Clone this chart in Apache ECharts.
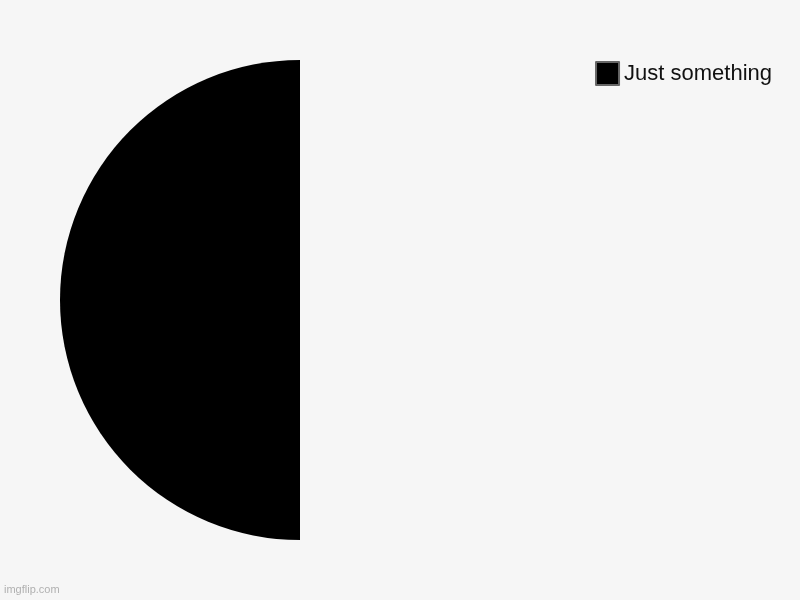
<!DOCTYPE html>
<html>
<head>
<meta charset="utf-8">
<script src="https://cdn.jsdelivr.net/npm/echarts@6/dist/echarts.min.js"></script>
<style>
  html, body { margin: 0; padding: 0; background: #f6f6f6; }
  #chart { width: 800px; height: 600px; }
</style>
</head>
<body>
<div id="chart"></div>
<script>
var categories = ['Just something', ''];
var values = [50, 50];
var colors = ['#000000', 'rgba(0,0,0,0)'];

var chart = echarts.init(document.getElementById('chart'));

var pieData = categories.map(function (name, i) {
    return { name: name, value: values[i], itemStyle: { color: colors[i] } };
});

var option = {
    backgroundColor: '#f6f6f6',
    animation: false,
    legend: {
        data: [{ name: categories[0], itemStyle: { color: '#000', borderColor: '#666', borderWidth: 2 } }],
        right: 23,
        top: 56,
        icon: 'rect',
        itemWidth: 23,
        itemHeight: 23,
        itemGap: 8,
        textStyle: { fontSize: 22, color: '#111', fontFamily: 'Liberation Sans, Arial, sans-serif' }
    },
    graphic: [{
        type: 'text',
        left: 4,
        top: 584,
        style: { text: 'imgflip.com', fill: '#b0b0b0', font: '11px Liberation Sans, Arial, sans-serif' }
    }],
    series: [{
        type: 'pie',
        center: [300, 300],
        radius: [0, 240],
        startAngle: 90,
        clockwise: false,
        label: { show: false },
        labelLine: { show: false },
        emphasis: { disabled: true },
        data: pieData
    }]
};

chart.setOption(option);
</script>
</body>
</html>
